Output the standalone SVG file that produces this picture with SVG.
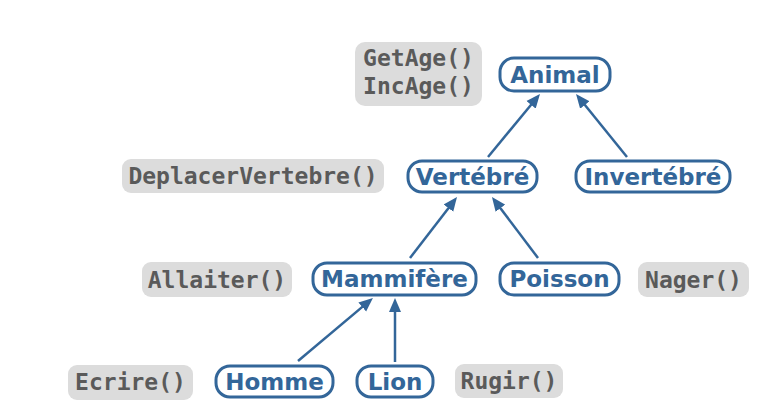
<svg xmlns="http://www.w3.org/2000/svg" width="783" height="420" viewBox="0 0 783 420">
<defs>
<marker id="arr" markerUnits="userSpaceOnUse" markerWidth="15" markerHeight="13" refX="4" refY="6" orient="auto" viewBox="0 0 15 12">
<path d="M0,0 L14,6 L0,12 z" fill="#336699"/>
</marker>
<style>
.node rect{fill:#ffffff;stroke:#336699;stroke-width:3}
.node text{font-family:"DejaVu Sans",sans-serif;font-weight:bold;font-size:23px;fill:#336699;text-anchor:middle}
.note rect{fill:#dcdcdc;stroke:none}
.note text{font-family:"DejaVu Sans Mono",monospace;font-weight:bold;font-size:23px;fill:#5a5a5a;text-anchor:middle}
.edges line{stroke:#336699;stroke-width:2.5;marker-end:url(#arr)}
</style>
</defs>
<rect width="783" height="420" fill="#ffffff"/>
<g class="edges" id="connectors">
<line x1="488" y1="157" x2="533.6" y2="101.7"/>
<line x1="627" y1="157" x2="582.3" y2="101.8"/>
<line x1="410" y1="258" x2="450.9" y2="204.9"/>
<line x1="538" y1="258" x2="498" y2="205"/>
<line x1="298" y1="361" x2="365.3" y2="304.4"/>
<line x1="395" y1="362" x2="395" y2="308"/>
</g>
<g class="note" id="note-animal"><rect x="355" y="42" width="127" height="64" rx="10"/><text x="418.5" y="66">GetAge()</text><text x="418.5" y="94">IncAge()</text></g>
<g class="note" id="note-vertebre"><rect x="122" y="159" width="262" height="34" rx="9"/><text x="253" y="184">DeplacerVertebre()</text></g>
<g class="note" id="note-mammifere"><rect x="142" y="262" width="150" height="35" rx="9"/><text x="217" y="288">Allaiter()</text></g>
<g class="note" id="note-poisson"><rect x="638" y="262" width="111" height="35" rx="9"/><text x="693.5" y="288">Nager()</text></g>
<g class="note" id="note-homme"><rect x="68" y="365" width="125" height="35" rx="9"/><text x="130.5" y="390">Ecrire()</text></g>
<g class="note" id="note-lion"><rect x="455" y="364" width="108" height="34" rx="9"/><text x="509" y="389">Rugir()</text></g>
<g class="node" id="animal"><rect x="500" y="58" width="110" height="33" rx="14"/><text x="555" y="83">Animal</text></g>
<g class="node" id="vertebre"><rect x="408" y="161" width="129" height="31" rx="14"/><text x="472.5" y="184.5">Vertébré</text></g>
<g class="node" id="invertebre"><rect x="576" y="161" width="154" height="31" rx="14"/><text x="653" y="184.5">Invertébré</text></g>
<g class="node" id="mammifere"><rect x="313" y="263" width="163" height="32" rx="14"/><text x="394.5" y="287">Mammifère</text></g>
<g class="node" id="poisson"><rect x="500" y="263" width="119" height="32" rx="14"/><text x="559.5" y="287">Poisson</text></g>
<g class="node" id="homme"><rect x="216" y="366" width="117" height="31" rx="14"/><text x="274.5" y="389.5">Homme</text></g>
<g class="node" id="lion"><rect x="357" y="366" width="76" height="31" rx="14"/><text x="395" y="389.5">Lion</text></g>
</svg>
